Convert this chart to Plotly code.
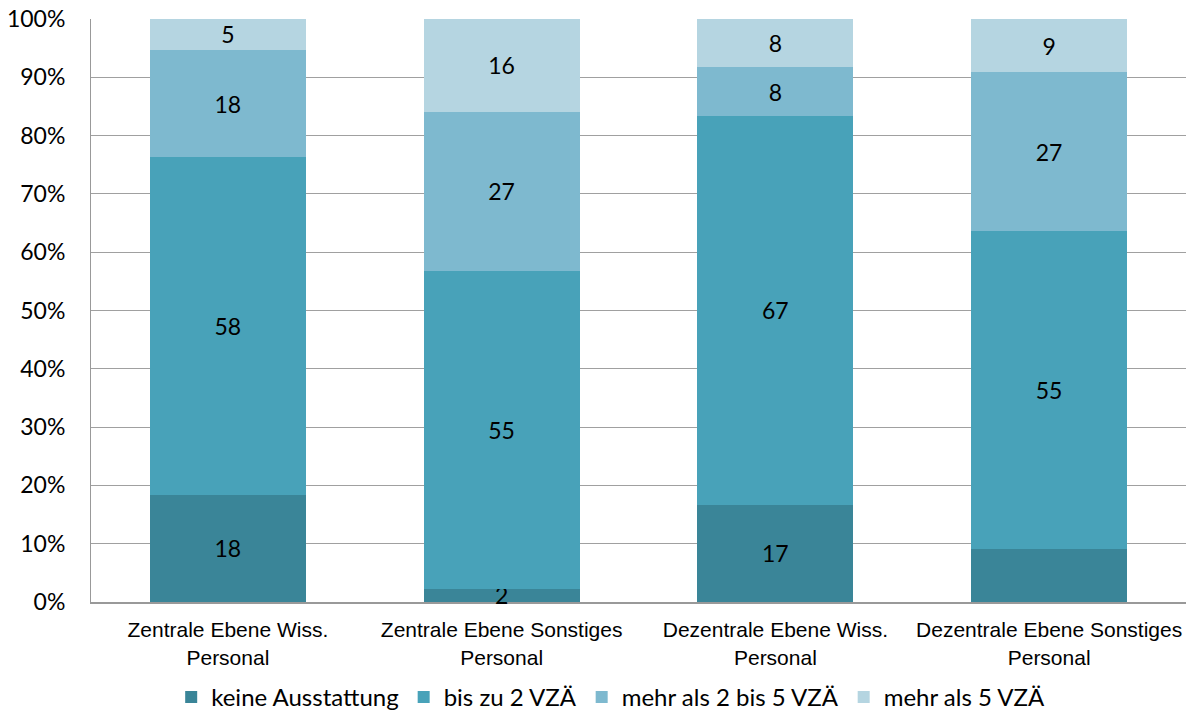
import plotly.graph_objects as go

categories = ["Zentrale Ebene Wiss.<br>Personal", "Zentrale Ebene Sonstiges<br>Personal",
              "Dezentrale Ebene Wiss.<br>Personal", "Dezentrale Ebene Sonstiges<br>Personal"]
series_names = ["keine Ausstattung", "bis zu 2 VZÄ", "mehr als 2 bis 5 VZÄ", "mehr als 5 VZÄ"]

keine = [18.4, 2.3, 16.7, 9.1]
bis2 = [57.9, 54.5, 66.7, 54.5]
mehr2bis5 = [18.4, 27.3, 8.3, 27.3]
mehr5 = [5.3, 15.9, 8.3, 9.1]

# which data labels are shown (bar 4 "keine" has no label in the reference)
show_keine = [True, True, True, False]
show_all = [True, True, True, True]

colors = ["#3A8598", "#48A2B9", "#7EB9CF", "#B5D5E1"]

fig = go.Figure()
for name, vals, shows, col in zip(series_names, [keine, bis2, mehr2bis5, mehr5],
                                  [show_keine, show_all, show_all, show_all], colors):
    fig.add_trace(go.Bar(
        x=categories, y=vals, name=name,
        marker=dict(color=col, line=dict(width=0)),
        text=[str(int(v + 0.5)) if s else "" for v, s in zip(vals, shows)],
        textposition="inside", insidetextanchor="middle", textangle=0,
        textfont=dict(family="Lato, Open Sans, sans-serif", size=23, color="black"),
        cliponaxis=False,
    ))

fig.update_layout(
    barmode="stack", barnorm="percent", bargap=0.43,
    width=1193, height=714,
    margin=dict(l=91, r=7, t=19, b=112, autoexpand=False),
    paper_bgcolor="white", plot_bgcolor="white",
    uniformtext=dict(minsize=23, mode="show"),
    legend=dict(orientation="h", x=0.4746, xanchor="center", y=-0.125, yanchor="top",
                font=dict(family="Lato, Open Sans, sans-serif", size=24, color="black"),
                traceorder="normal", itemwidth=30),
    xaxis=dict(showline=True, linecolor="#999999", linewidth=2, ticks="", automargin=False,
               layer="below traces", ticklabelstandoff=8,
               tickfont=dict(family="Liberation Sans, Arial, sans-serif", size=21, color="black")),
    yaxis=dict(range=[0, 100], dtick=10, ticksuffix="%", showgrid=True, gridcolor="#A0A0A0",
               gridwidth=1, showline=True, linecolor="#999999", linewidth=1, zeroline=False,
               automargin=False, ticklabelstandoff=20, layer="below traces",
               tickfont=dict(family="Lato, Open Sans, sans-serif", size=23, color="black")),
)

fig.write_html("out.html", config={"displayModeBar": False},
               post_script="document.body.style.margin='0';")
